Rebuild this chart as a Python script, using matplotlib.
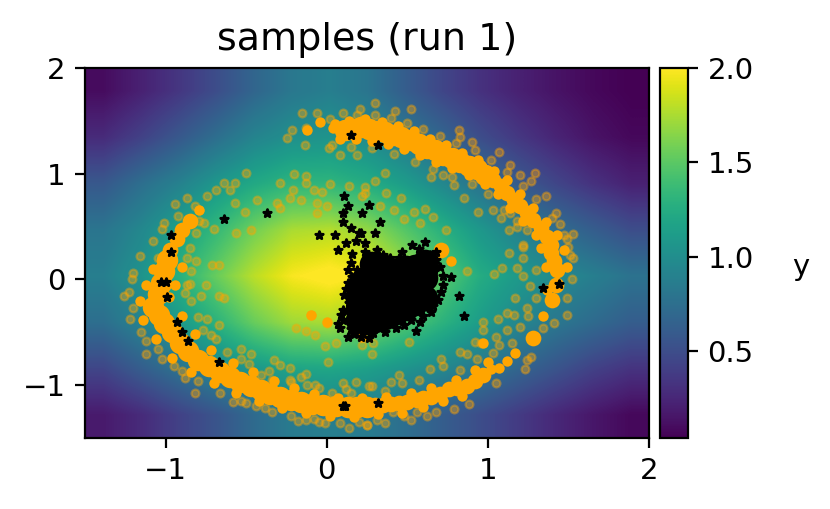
#!/usr/bin/env python3
"""Samples of run 1 on top of the y surface."""

import numpy as np
import matplotlib
matplotlib.use('Agg')
import matplotlib.pyplot as plt

# surface y, top row first (y = 2 ... -1.5, x = -1.5 ... 2)
surface = [
    [.10, .22, .35, .50, .68, .82, .88, .80, .62, .45, .32, .22, .14, .08, .04],
    [.28, .42, .58, .75, .92, 1.02, 1.05, .98, .84, .68, .50, .36, .24, .14, .08],
    [.58, .75, .90, 1.08, 1.22, 1.32, 1.32, 1.25, 1.12, .95, .78, .60, .45, .32, .22],
    [.80, .95, 1.15, 1.35, 1.58, 1.75, 1.78, 1.68, 1.48, 1.28, 1.08, .90, .75, .62, .50],
    [.88, 1.05, 1.28, 1.55, 1.80, 1.98, 2.05, 1.98, 1.75, 1.50, 1.25, 1.10, .98, .88, .78],
    [.75, .92, 1.10, 1.30, 1.55, 1.72, 1.75, 1.65, 1.48, 1.30, 1.12, .95, .82, .72, .62],
    [.45, .62, .78, .95, 1.08, 1.18, 1.20, 1.15, 1.05, .95, .82, .68, .55, .42, .33],
    [.18, .28, .42, .55, .72, .85, .88, .85, .75, .62, .50, .38, .26, .16, .08],
]

# loose samples, one pair per visible ring
loose_xy = [
    (-.154, 1.57), (-.06, 1.57), (-.216, 1.415), (-.247, 1.335), (-.134, 1.27), (-.128, 1.43),
    (.204, 1.61), (.012, 1.24), (.082, 1.18), (.185, 1.18), (-.5, 1.01), (-.57, .91),
    (-.64, .91), (-.6, .85), (-.69, .85), (-.74, .79), (-.87, .77), (-.94, .71), (-.79, .66),
    (-1.01, .53), (-.82, .69), (-.7, .48), (-.76, .53), (-.81, .44), (-.56, .44), (-.47, .47),
    (-.51, .64), (-.57, .72), (-.43, .75), (-.29, .91), (-.2, 1.0), (-.13, .98), (-.13, .91),
    (-.21, .85), (-.23, .77), (-.31, .72), (-.29, .68), (-.16, .75), (-.08, .85), (-.03, .83),
    (.02, .9), (-.06, .72), (-.06, .63), (0, .69), (.14, .88), (.24, .87), (.22, .79),
    (.30, 1.67), (.425, 1.59), (.52, 1.61), (.82, 1.41), (.83, 1.35), (.90, 1.3), (1.07, 1.21),
    (1.14, 1.08), (1.2, .99), (1.29, 1.01), (1.27, .93), (1.36, .79), (1.42, .63), (1.45, .52),
    (1.53, .43), (1.49, .38), (.65, .97), (.72, .99), (.79, .89), (.85, .77), (.94, .64),
    (1.03, .66), (1.08, .58), (1.14, .63), (1.18, .55), (1.13, .47), (1.24, .47), (1.22, .33),
    (.36, 1.01), (.30, .93), (.37, .82), (.46, .77), (.54, .64), (.61, .67), (.66, .59),
    (.58, .53), (.74, .47), (.42, .66), (.48, .57), (.24, .82), (.33, .69),
    (1.5, .31), (1.51, .23), (1.52, 0), (1.49, -.18), (1.49, -.34), (1.41, -.41),
    (1.13, .25), (1.22, .31), (1.22, .2), (1.3, .09), (1.18, .11), (1.09, .11), (1.04, .05),
    (1.22, .03), (1.26, -.06), (1.3, -.18), (1.17, -.18), (1.24, -.27), (1.06, -.37),
    (1.12, -.32), (1.16, -.34), (1.25, -.35), (1.34, -.46), (1.2, -.45), (1.12, -.48),
    (1.05, -.54), (1.15, -.6), (1.07, -.62), (.97, -.4), (.97, -.48), (.92, -.59), (.96, -.6),
    (1.03, -.7), (.87, -.71), (.93, -.75), (.83, -.69), (.71, -.75), (.72, -.82), (.83, -.86),
    (.64, -.85), (.57, -.95), (.47, -.98), (.4, -.97), (.45, -.9), (.28, -1.01), (1.24, -.76),
    (1.23, -.85), (1.27, -.73), (1.05, -.98), (.79, -1.23), (.62, -1.29), (.52, -1.33),
    (.41, -1.25), (.31, -1.33), (.25, -1.38), (.56, -1.25), (.87, .08), (.28, -.71),
    (.51, -.59), (.29, -.6),
    (-1.16, .22), (-1.21, 0), (-1.26, -.16), (-1.22, -.37), (-1.12, -.58), (-1.12, -.71),
    (-1.02, -.75), (-.9, -.87), (-.88, -.93), (-.82, -1.07), (-.58, -1.16), (-.53, -1.15),
    (-.34, -1.25), (-.18, -1.34), (-.13, -1.33), (-.05, -1.35), (.14, -1.41), (.25, -1.38),
    (-.01, -1.36), (-.44, -1.2), (-.67, -.16), (-.64, -.18), (-.75, -.05), (-.78, -.16),
    (-.74, -.37), (-.67, -.43), (-.77, -.48), (-.69, -.56), (-.85, -.04), (-.88, -.13),
    (-.81, .17), (-.71, .14), (-.67, .14), (-.87, .2), (-.53, -.66), (-.47, -.71), (-.53, -.75),
    (-.33, -.76), (-.29, -.81), (-.23, -.84), (-.13, -.89), (-.16, -.92), (-.23, -.95),
    (-.34, -.95), (-.41, -.9), (-.12, -1.0), (-.07, -1.0), (.1, -.98), (.18, -.97), (.15, -1.07),
    (.03, -1.07), (.26, -1.01), (.01, -.78), (-.19, -.46), (-.13, -.49), (-.07, -.53),
    (-.01, -.63), (.06, -.6), (-.1, -.34), (0, -.41), (.22, -.62),
    # fuzz along the edge of the thick band
    (.02, 1.52), (.1, 1.57), (.19, 1.56), (.3, 1.56), (.4, 1.53), (.5, 1.48), (.6, 1.42),
    (.7, 1.36), (.8, 1.29), (.92, 1.22), (1.02, 1.13), (1.12, 1.02), (1.22, .88), (1.3, .76),
    (1.4, .58), (1.47, .42), (1.53, .2), (.03, 1.27), (.15, 1.25), (.28, 1.24), (.42, 1.19),
    (.55, 1.11), (.66, 1.04), (.78, .97), (.9, .9), (1.0, .81), (1.1, .66), (1.18, .5),
    (-1.2, .06), (-1.23, -.12), (-1.2, -.27), (-1.15, -.5), (-1.05, -.66), (-.95, -.82),
    (-.8, -.96), (-.66, -1.07), (-.5, -1.17), (-.38, -1.22), (-.22, -1.29), (-.08, -1.32),
    (.08, -1.36), (.2, -1.35), (.36, -1.36), (.48, -1.29), (.68, -1.25), (.88, -1.18),
    (-.84, .08), (-.87, -.05), (-.84, -.2), (-.8, -.36), (-.72, -.53), (-.62, -.69),
    (-.48, -.8), (-.36, -.87), (-.22, -.97), (-.05, -1.03), (.12, -1.04), (.36, -1.06),
    (-1.08, .36), (-1.05, .2), (-.85, .3), (-1.02, .48), (-.92, .6), (-.79, .55),
]

# saturated parts of the band, by how wide the pile of samples looks
band_wide_xy = [
    (.115, 1.41), (.16, 1.42), (.21, 1.44), (.26, 1.42), (.31, 1.40), (.36, 1.39), (.41, 1.37),
    (.46, 1.35), (.52, 1.32), (.57, 1.28), (.62, 1.24), (.67, 1.22), (.72, 1.18), (.78, 1.15),
    (.83, 1.11), (.88, 1.07), (.93, 1.04), (.98, .99),
    (-.99, .18), (-1.01, .08), (-1.03, -.03), (-1.05, -.14), (-1.08, -.26), (-1.04, -.34),
    (-1.01, -.41), (-.96, -.5), (-.91, -.60), (-.86, -.68), (-.80, -.76), (-.73, -.82),
    (-.66, -.875), (-.60, -.92), (-.54, -.97), (-.47, -1.01), (-.41, -1.05), (-.35, -1.08),
    (-.29, -1.11), (-.22, -1.14), (-.16, -1.16), (-.09, -1.18), (-.02, -1.19), (.06, -1.2),
    (.13, -1.21), (.19, -1.21), (.25, -1.21),
]
band_mid_xy = [
    (1.03, .94), (1.08, .88), (1.12, .82), (1.16, .75), (1.20, .69), (1.24, .63), (1.28, .56),
    (1.33, .49), (1.37, .40), (1.39, .33), (1.39, .25), (1.41, .17), (1.43, .09), (1.42, -.05),
    (1.40, -.19), (.30, -1.19), (.35, -1.19), (.40, -1.18), (.45, -1.17), (.50, -1.16), (.56, -1.14),
    (.60, -1.12), (.65, -1.11), (.70, -1.08), (.76, -1.04), (.81, -1.03), (.87, -1.01), (.92, -.96),
    (.97, -.9), (1.28, -.55), (.71, .28), (-.85, .55), (-.9, .47), (-.93, .38), (-.97, .28),
]
band_thin_xy = [
    (-.12, 1.41), (-.04, 1.49), (.04, 1.43), (1.34, -.35), (1.07, -.84), (1.17, -.7), (.97, -.6),
    (-.79, .66), (.77, .17), (1.02, -.85), (1.12, -.77), (-.1, -.34), (0, -.4), (.22, -.54),
    (1.12, .94), (1.2, .81), (1.28, .68), (1.36, .54), (1.43, .42), (1.47, .28), (1.49, .12),
    (1.06, .81), (1.14, .68), (1.22, .55), (1.3, .42), (1.33, .3), (1.36, .12), (1.37, -.1),
    (.47, -1.26), (.6, -1.21), (.72, -1.15), (.84, -1.1), (.37, -1.11), (.52, -1.07), (.65, -1.03),
    (.8, -.95), (.92, -.86), (1.0, -.78),
    (.05, 1.47), (.14, 1.5), (.24, 1.52), (.34, 1.49), (.44, 1.45), (.54, 1.40), (.64, 1.33),
    (.74, 1.27), (.84, 1.2), (.94, 1.13), (1.04, 1.03),
    (-1.08, .1), (-1.12, -.05), (-1.16, -.2), (-1.14, -.38), (-1.06, -.56), (-.96, -.74),
    (-.84, -.88), (-.7, -.98), (-.56, -1.07), (-.42, -1.15), (-.28, -1.22), (-.13, -1.26),
    (.02, -1.29), (.17, -1.3), (.32, -1.27),
    (.08, 1.33), (.18, 1.33), (.28, 1.31), (.38, 1.28), (.48, 1.23), (.58, 1.18), (.68, 1.11),
    (.78, 1.05), (.88, .99), (.98, .9),
    (-.9, .12), (-.94, -.05), (-.98, -.17), (-.9, -.35), (-.82, -.52), (-.72, -.67), (-.58, -.79),
    (-.46, -.88), (-.33, -.96), (-.2, -1.03), (-.08, -1.08), (.07, -1.12), (.22, -1.12),
]

# picks: solid block of black in the middle plus single markers
blob_core_xy = [
    (.24, -.40), (.30, -.38), (.36, -.36), (.43, -.31), (.49, -.27), (.55, -.22), (.61, -.175),
    (.195, -.19), (.195, -.28), (.33, -.15), (.25, -.2), (.40, -.2), (.47, -.08), (.54, -.05),
    (.61, .015), (.61, .09), (.61, .165), (.49, .11), (.55, .12), (.42, .08), (.36, .04),
    (.30, .02), (.24, 0), (.20, -.08), (.28, .15), (.34, .13), (.195, -.38), (.28, -.25),
    (.36, -.25),
]
best_xy = [
    (.15, 1.37), (.32, 1.27), (-.635, .57), (-.37, .63), (-.965, .42), (-.965, .26), (-1.03, -.02),
    (-1.0, -.02), (-.99, -.165), (-.93, -.40), (-.9, -.5), (-.86, -.58), (-.67, -.78), (.10, -1.2),
    (.115, -1.2), (.32, -1.17), (1.345, -.08), (1.44, -.04), (.77, .02), (.82, -.155), (.85, -.345),
    (.555, -.49),
    (.11, .79), (.13, .69), (.10, .63), (.22, .63), (-.05, .42), (.05, .42), (.10, .54), (.15, .49),
    (.20, .44), (.18, .36), (.07, .28), (.26, .70), (.33, .54), (.21, .44), (.30, .44),
    (.31, .28), (.24, .26), (.35, .23), (.27, .2), (.53, .33), (.61, .35), (.47, .26), (.39, .2),
    (.70, .12), (.72, -.05), (.69, -.19), (.65, -.31), (.52, -.38), (.43, -.46), (.29, -.51),
    (.21, -.54), (.13, -.54), (.08, -.46), (.10, -.29), (.13, -.03), (.19, .09), (.15, .16),
    (.11, -.15), (.10, -.38), (.13, .09), (.58, -.40), (.64, .23), (.68, .18),
    (.16, .24), (.12, .34), (.24, .34), (.17, -.52), (.26, -.55), (.36, -.5), (.48, -.43),
    (.6, -.35), (.66, -.25), (.71, -.12), (.72, .03), (.68, .26), (.57, .29), (.45, .2),
    (.14, -.22), (.12, -.09), (.09, -.34), (.07, -.42), (.15, -.47), (.16, .02),
]

x_ticks = [-1, 0, 1, 2]
y_ticks = [-1, 0, 1, 2]
cbar_ticks = [0.5, 1.0, 1.5, 2.0]


def scatter_xy(ax, points, **kwargs):
    xs, ys = zip(*points)
    ax.scatter(xs, ys, **kwargs)


def main():
    fig = plt.figure(figsize=(4.15, 2.545), dpi=200)
    w, h = 830.0, 509.0
    ax = fig.add_axes([85 / w, 1 - 438 / h, 564 / w, 370 / h])
    cax = fig.add_axes([660 / w, 1 - 438 / h, 28 / w, 370 / h])

    im = ax.imshow(np.array(surface), extent=[-1.5, 2, -1.5, 2], aspect='auto',
                   cmap='viridis', vmin=0.04, vmax=2.0, interpolation='bilinear')

    scatter_xy(ax, loose_xy, s=8, color='orange', alpha=0.4, linewidths=0.8)
    scatter_xy(ax, band_thin_xy, s=14, color='orange', linewidths=0)
    scatter_xy(ax, band_mid_xy, s=32, color='orange', linewidths=0)
    scatter_xy(ax, band_wide_xy, s=60, color='orange', linewidths=0)
    scatter_xy(ax, blob_core_xy, s=85, color='black', linewidths=0)
    scatter_xy(ax, best_xy, s=8, color='black', marker='*', linewidths=1.0)

    ax.set_xlim(-1.5, 2)
    ax.set_ylim(-1.5, 2)
    ax.set_xticks(x_ticks)
    ax.set_yticks(y_ticks)
    ax.tick_params(labelsize=10.5)
    ax.set_title('samples (run 1)', fontsize=13.7, pad=6.5)

    cb = fig.colorbar(im, cax=cax)
    cb.set_ticks(cbar_ticks)
    cb.ax.tick_params(labelsize=10.5)
    cb.set_label('y', rotation=0, fontsize=10.5, labelpad=17)

    fig.savefig('out.png', dpi=200)
    plt.close(fig)


if __name__ == '__main__':
    main()
